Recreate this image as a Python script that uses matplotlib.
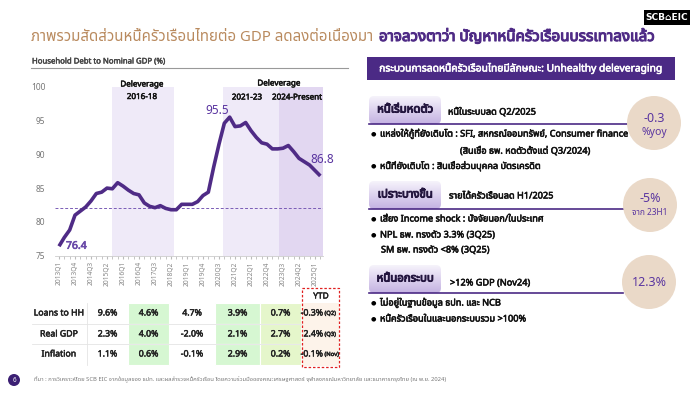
import numpy as np
import matplotlib
matplotlib.use("Agg")
import matplotlib.pyplot as plt
import matplotlib.patheffects as pe
from matplotlib import font_manager
from matplotlib.colors import to_rgb
from matplotlib.ft2font import FT2Font
from matplotlib.patches import Rectangle, FancyBboxPatch, Circle


# pick a font that actually has Thai glyphs
def thai_families():
    found = []
    for f in font_manager.fontManager.ttflist:
        try:
            cmap = FT2Font(f.fname).get_charmap()
        except Exception:
            continue
        if 0x0E01 in cmap and f.name not in found:
            found.append(f.name)
    return found

thai = thai_families()
prefer = [n for n in ["Noto Sans Thai", "Noto Sans Thai UI", "Sarabun", "Tahoma",
                      "Loma", "Garuda", "Norasi"] if n in thai]
FAM = (prefer or thai)[:1] + ["DejaVu Sans"]
plt.rcParams["font.family"] = FAM

# ---- data ----
debt_gdp = [76.4, 77.7, 78.8, 81.0, 81.6, 82.2, 83.1, 84.2, 84.4, 85.0,
            84.9, 85.8, 85.3, 84.7, 84.2, 84.0, 82.8, 82.3, 82.1, 82.4,
            82.0, 81.8, 81.8, 82.6, 82.6, 82.6, 83.0, 83.9, 84.4, 88.1,
            91.5, 94.6, 95.5, 94.1, 94.2, 94.7, 93.5, 92.5, 91.7, 91.5,
            90.8, 90.8, 90.9, 91.3, 90.4, 89.4, 88.9, 88.4, 87.6, 86.8]
tick_labels = ["2013Q1", "2013Q4", "2014Q3", "2015Q2", "2016Q1", "2016Q4",
               "2017Q3", "2018Q2", "2019Q1", "2019Q4", "2020Q3", "2021Q2",
               "2022Q1", "2022Q4", "2023Q3", "2024Q2", "2025Q1"]
avg_level = 82.0
spans = [(9.9, 21.6), (30.8, 41.3), (41.3, 49.5)]
span_colors = ["#efeaf8", "#efeaf8", "#e2d7f1"]

row_names = ["Loans to HH", "Real GDP", "Inflation"]
loans_hh = ["9.6%", "4.6%", "4.7%", "3.9%", "0.7%", "-0.3%"]
real_gdp = ["2.3%", "4.0%", "-2.0%", "2.1%", "2.7%", "2.4%"]
inflation = ["1.1%", "0.6%", "-0.1%", "2.9%", "0.2%", "-0.1%"]
ytd_notes = ["(Q2)", "(Q3)", "(Nov)"]

PURPLE = "#4f2b86"
GOLD = "#b98a5e"


def heavy(color, w=0.5):
    # the Thai face has no bold cut, so thicken strokes a little
    return [pe.withStroke(linewidth=w, foreground=color)]


fig = plt.figure(figsize=(7, 3.94), dpi=100)
bg = fig.add_axes([0, 0, 1, 1])
bg.axis("off")
bg.set_xlim(0, 700)
bg.set_ylim(394, 0)


def px_rect(x0, y0, x1, y1):
    return [x0 / 700, 1 - y1 / 394, (x1 - x0) / 700, (y1 - y0) / 394]


# ---- title + logo ----
t1 = bg.text(31, 37, "ภาพรวมสัดส่วนหนี้ครัวเรือนไทยต่อ GDP ลดลงต่อเนื่องมา ",
             fontsize=10.8, color=GOLD, va="center", ha="left")
fig.canvas.draw()
r = fig.canvas.get_renderer()
bb = t1.get_window_extent(r)
x_end = bb.x1 * 700 / fig.bbox.width
bg.text(x_end + 2, 37, "อาจลวงตาว่า ปัญหาหนี้ครัวเรือนบรรเทาลงแล้ว",
        fontsize=10.9, color=PURPLE, fontweight="bold", va="center", ha="left",
        path_effects=heavy(PURPLE, 0.8))
bg.add_patch(Rectangle((644, 10), 46, 15, fc="black", ec="none"))
bg.text(667, 17.5, "SCB⌂EIC", color="white", fontsize=6.5, fontweight="bold",
        ha="center", va="center", family=["DejaVu Sans"])

# ---- chart ----
bg.text(32, 62, "Household Debt to Nominal GDP (%)", fontsize=5.6,
        fontweight="bold", color="#444444", va="center", path_effects=heavy("#444444", 0.3))
bg.plot([31, 348], [68, 68], color="#999999", lw=0.8)

ax = fig.add_axes(px_rect(55, 86.7, 323, 255.7))
ax.patch.set_alpha(0)
x = np.arange(len(debt_gdp))
for (a, b), c in zip(spans, span_colors):
    ax.axvspan(a, b, color=c, lw=0, zorder=0)
ax.axhline(avg_level, color="#7a5cb6", lw=0.7, ls=(0, (3, 2)), zorder=1)
ax.plot(x, debt_gdp, color=PURPLE, lw=2.6, solid_joinstyle="round",
        solid_capstyle="butt", zorder=3)
ax.set_xlim(-0.75, 49.5)
ax.set_ylim(75, 100)
ax.set_yticks([75, 80, 85, 90, 95, 100])
ax.set_xticks(np.arange(0, 49, 3))
ax.set_xticklabels(tick_labels, rotation=90)
ax.set_xticks(x, minor=True)
ax.tick_params(axis="y", length=0, labelsize=6, labelcolor="#777777", pad=7)
ax.tick_params(axis="x", which="both", length=2, color="#bbbbbb",
               labelsize=4.8, labelcolor="#888888", pad=2)
for s in ["top", "right", "left"]:
    ax.spines[s].set_visible(False)
ax.spines["bottom"].set_color("#cccccc")
ax.spines["bottom"].set_linewidth(0.6)

ax.annotate(f"{debt_gdp[0]}", (0, debt_gdp[0]), xytext=(7, 0),
            textcoords="offset pixels", fontsize=7.5, fontweight="bold",
            color="#6a4aa8", ha="left", va="center", path_effects=heavy("#6a4aa8", 0.5))
i_pk = int(np.argmax(debt_gdp))
ax.annotate(f"{debt_gdp[i_pk]}", (i_pk, debt_gdp[i_pk]), xytext=(-12, 7),
            textcoords="offset pixels", fontsize=8.5, color="#5a35a0",
            ha="center", va="center")
ax.annotate(f"{debt_gdp[-1]}", (len(debt_gdp) - 1, debt_gdp[-1]), xytext=(2, 16),
            textcoords="offset pixels", fontsize=8.5, color="#5a35a0",
            ha="center", va="center")

# period labels sit over the shading, so they go on the chart axes
lab = dict(fontsize=5.8, fontweight="bold", color="#111111", ha="center",
           va="center", transform=bg.transData, clip_on=False, zorder=5,
           path_effects=heavy("#111111", 0.35))
ax.text(142, 84, "Deleverage", **lab)
ax.text(142, 96.5, "2016-18", **lab)
ax.text(279, 83, "Deleverage", **lab)
ax.text(247, 97, "2021-23", **lab)
ax.text(297, 97, "2024-Present", **lab)

# ---- table ----
edges = [87, 128, 169, 215, 260, 301, 340]
row_y = [313, 334, 354]
fills = [None, "#d6f7d2", None, "#d6f7d2", "#e5f6cb"]
for j, fc in enumerate(fills):
    if fc:
        for k in range(3):
            bg.add_patch(Rectangle((edges[j], 303 + k * 20.7), edges[j + 1] - edges[j],
                                   20.7, fc=fc, ec="white", lw=0.8))
for yl in [324, 344]:
    bg.plot([32, 301], [yl, yl], color="#e4e4e4", lw=0.6)
bg.plot([87, 87], [303, 365], color="#e4e4e4", lw=0.6)
bg.add_patch(Rectangle((302, 303), 37, 63, fc="#fdf3ea", ec="none"))
bg.add_patch(Rectangle((302, 288), 37, 79, fc="none", ec="#e02020", lw=0.9,
                       ls=(0, (2, 1.5))))
tab_txt = dict(fontweight="bold", color="#222222", va="center",
               path_effects=heavy("#222222", 0.35))
bg.text(321, 296, "YTD", fontsize=6, ha="center", **tab_txt)
for k, (name, vals) in enumerate(zip(row_names, [loans_hh, real_gdp, inflation])):
    y = row_y[k]
    bg.text(59, y, name, fontsize=6.3, ha="center", **tab_txt)
    for j in range(5):
        bg.text((edges[j] + edges[j + 1]) / 2, y, vals[j], fontsize=6.3,
                ha="center", **tab_txt)
    bg.text(323, y, vals[5], fontsize=6.3, ha="right", **tab_txt)
    bg.text(324.5, y + 0.5, ytd_notes[k], fontsize=4.2, style="italic",
            ha="left", **tab_txt)

# ---- right panel ----
bg.add_patch(Rectangle((367, 57), 308, 22.5, fc="#4b2a85", ec="none"))
bg.text(521, 68.5, "กระบวนการลดหนี้ครัวเรือนไทยมีลักษณะ: Unhealthy deleveraging",
        fontsize=7.4, fontweight="bold", color="white", ha="center", va="center",
        path_effects=heavy("white", 0.4))


def tab(y0, y1, label):
    x0, x1 = 369, 441
    patch = FancyBboxPatch((x0, y0), x1 - x0, y1 - y0,
                           boxstyle="round,pad=0,rounding_size=5", fc="none", ec="none")
    bg.add_patch(patch)
    top = np.array(to_rgb("#f6f3fb"))
    bot = np.array(to_rgb("#c4b2e2"))
    g = np.linspace(0, 1, 60)[:, None, None]
    img = top + (bot - top) * g
    im = bg.imshow(img, extent=[x0, x1, y1, y0], aspect="auto", zorder=2,
                   interpolation="bilinear")
    im.set_clip_path(patch)
    bg.text((x0 + x1) / 2, (y0 + y1) / 2, label, fontsize=8.2, fontweight="bold",
            color="#24163f", ha="center", va="center", zorder=3,
            path_effects=heavy("#24163f", 0.7))


def bubble(cx, cy, lines):
    bg.add_patch(Circle((cx, cy), 27, fc="#ead9c8", ec="none", zorder=2))
    for txt, dy, fs in lines:
        bg.text(cx, cy + dy, txt, fontsize=fs, color="#5a35a0", ha="center",
                va="center", zorder=3)


body = dict(fontsize=6.6, fontweight="bold", color="#111111", va="center", ha="left",
            path_effects=heavy("#111111", 0.4))

# section 1
tab(96, 124, "หนี้เริ่มหดตัว")
bg.plot([369, 628], [124, 124], color="#4b2a85", lw=1.2)
bg.text(448, 112, "หนี้ในระบบลด Q2/2025", **body)
bubble(654, 123, [("-0.3", -5, 9), ("%yoy", 9, 7.5)])
bg.text(371, 134, "●", fontsize=4.5, va="center", ha="left")
bg.text(380, 134, "แหล่งให้กู้ที่ยังเติบโต : SFI, สหกรณ์ออมทรัพย์, Consumer finance", **body)
bg.text(460, 151, "(สินเชื่อ ธพ. หดตัวตั้งแต่ Q3/2024)", **body)
bg.text(371, 166, "●", fontsize=4.5, va="center", ha="left")
bg.text(380, 166, "หนี้ที่ยังเติบโต : สินเชื่อส่วนบุคคล บัตรเครดิต", **body)

# section 2
tab(181, 209, "เปราะบางขึ้น")
bg.plot([369, 627], [209, 209], color="#4b2a85", lw=1.2)
bg.text(449, 196, "รายได้ครัวเรือนลด H1/2025", **body)
bubble(650, 205, [("-5%", -7, 9), ("จาก 23H1", 7, 6)])
bg.text(371, 219, "●", fontsize=4.5, va="center", ha="left")
bg.text(380, 219, "เสี่ยง Income shock : ปัจจัยนอก/ในประเทศ", **body)
bg.text(371, 235, "●", fontsize=4.5, va="center", ha="left")
bg.text(380, 235, "NPL ธพ. ทรงตัว 3.3% (3Q25)", **body)
bg.text(381, 250, "SM ธพ. ทรงตัว <8% (3Q25)", **body)

# section 3
tab(265, 293, "หนี้นอกระบบ")
bg.plot([369, 623], [293, 293], color="#4b2a85", lw=1.2)
bg.text(450, 283, ">12% GDP (Nov24)", **body)
bubble(649, 282, [("12.3%", 0, 9)])
bg.text(371, 303, "●", fontsize=4.5, va="center", ha="left")
bg.text(380, 303, "ไม่อยู่ในฐานข้อมูล ธปท. และ NCB", **body)
bg.text(371, 319, "●", fontsize=4.5, va="center", ha="left")
bg.text(380, 319, "หนี้ครัวเรือนในและนอกระบบรวม >100%", **body)

# ---- footer ----
bg.add_patch(Circle((14, 380), 6, fc="#3b1f73", ec="none"))
bg.text(14, 380, "6", color="white", fontsize=4.5, fontweight="bold",
        ha="center", va="center")
bg.text(34, 380, "ที่มา : การวิเคราะห์โดย SCB EIC จากข้อมูลของ ธปท. และผลสำรวจหนี้ครัวเรือน "
        "โดยความร่วมมือของคณะเศรษฐศาสตร์ จุฬาลงกรณ์มหาวิทยาลัย และธนาคารกรุงไทย (ณ พ.ย. 2024)",
        fontsize=4.2, color="#777777", va="center", ha="left")

bg.set_xlim(0, 700)
bg.set_ylim(394, 0)
fig.savefig("out.png", dpi=100)
